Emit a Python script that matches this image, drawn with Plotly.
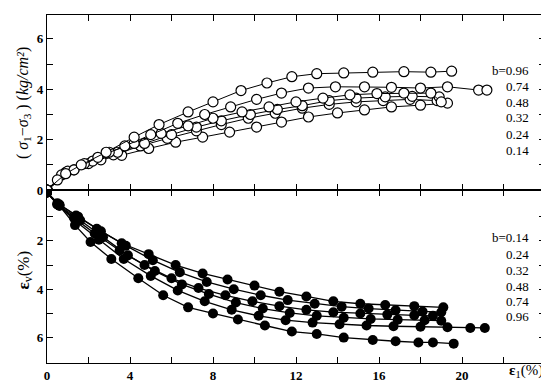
import plotly.graph_objects as go
from plotly.subplots import make_subplots

b_labels = ["0.14", "0.24", "0.32", "0.48", "0.74", "0.96"]

# Upper panel: deviator stress (sigma1 - sigma3), kg/cm2, vs axial strain eps1 (%)
up_e1 = {
    "0.14": [0, 1.3, 2.6, 3.6, 4.9, 6.2, 7.5, 8.8, 10.1, 11.3, 12.6, 14.0, 15.3, 16.6, 18.0, 19.3],
    "0.24": [0, 0.9, 2.0, 3.2, 4.5, 5.8, 7.2, 8.4, 9.7, 11.0, 12.3, 13.6, 14.9, 16.2, 17.5, 18.8],
    "0.32": [0, 1.0, 2.2, 3.4, 4.7, 6.0, 7.2, 8.4, 9.8, 11.1, 12.3, 13.6, 14.9, 16.3, 17.6, 18.9],
    "0.48": [0, 0.7, 1.8, 3.0, 4.2, 5.5, 6.8, 8.0, 9.4, 10.7, 12.0, 13.3, 14.6, 15.9, 17.2, 18.5, 19.0],
    "0.74": [0, 0.5, 1.3, 2.45, 3.75, 5.0, 6.3, 7.6, 8.85, 10.1, 11.3, 12.6, 13.9, 15.3, 16.6, 18.0, 19.3, 20.8, 21.2],
    "0.96": [0, 0.9, 1.65, 2.85, 4.2, 5.4, 6.8, 8.0, 9.35, 10.6, 11.8, 13.0, 14.3, 15.7, 17.2, 18.5, 19.5],
}
up_sig = {
    "0.14": [0, 0.8, 1.2, 1.38, 1.65, 1.9, 2.1, 2.3, 2.5, 2.7, 2.9, 3.06, 3.18, 3.3, 3.37, 3.45],
    "0.24": [0, 0.7, 1.05, 1.4, 1.75, 2.05, 2.35, 2.6, 2.85, 3.05, 3.25, 3.4, 3.5, 3.55, 3.6, 3.55],
    "0.32": [0, 0.75, 1.15, 1.5, 1.85, 2.2, 2.5, 2.75, 3.0, 3.2, 3.35, 3.55, 3.65, 3.7, 3.72, 3.7],
    "0.48": [0, 0.6, 1.05, 1.5, 1.85, 2.25, 2.55, 2.85, 3.1, 3.3, 3.5, 3.65, 3.78, 3.83, 3.85, 3.85, 3.5],
    "0.74": [0, 0.4, 0.8, 1.3, 1.75, 2.2, 2.65, 3.0, 3.3, 3.6, 3.85, 4.05, 4.1, 4.1, 4.08, 4.05, 4.1, 3.97, 3.97],
    "0.96": [0, 0.65, 1.0, 1.5, 2.1, 2.6, 3.1, 3.5, 3.95, 4.25, 4.5, 4.62, 4.65, 4.68, 4.7, 4.68, 4.72],
}

# Lower panel: volumetric strain eps_v (%) vs eps1 (%)
lo_e1 = {
    "0.14": [0, 0.5, 1.4, 2.4, 3.6, 4.9, 6.2, 7.5, 8.7, 10.0, 11.2, 12.5, 13.8, 15.1, 16.3, 17.7, 19.1],
    "0.24": [0, 0.6, 1.5, 2.6, 3.8, 5.1, 6.4, 7.7, 9.0, 10.3, 11.6, 12.9, 14.2, 15.5, 16.8, 18.1, 19.0],
    "0.32": [0, 0.5, 1.3, 2.3, 3.5, 4.7, 6.0, 7.3, 8.6, 9.9, 11.2, 12.5, 13.8, 15.1, 16.4, 17.7, 18.6],
    "0.48": [0, 0.6, 1.6, 2.7, 3.9, 5.2, 6.5, 7.8, 9.1, 10.4, 11.7, 13.0, 14.3, 15.6, 16.9, 18.2, 19.0],
    "0.74": [0, 0.5, 1.4, 2.5, 3.7, 5.0, 6.3, 7.6, 8.9, 10.2, 11.5, 12.8, 14.1, 15.4, 16.7, 18.0, 19.3, 20.4, 21.1],
    "0.96": [0, 0.6, 1.35, 2.1, 3.1, 4.4, 5.6, 6.8, 8.0, 9.2, 10.5, 11.8, 13.0, 14.3, 15.7, 16.8, 17.9, 18.6, 19.6],
}
lo_ev = {
    "0.14": [0, 0.45, 0.95, 1.5, 2.1, 2.55, 3.0, 3.35, 3.6, 3.85, 4.1, 4.3, 4.5, 4.6, 4.65, 4.7, 4.75],
    "0.24": [0, 0.5, 1.0, 1.6, 2.2, 2.8, 3.3, 3.7, 4.0, 4.25, 4.45, 4.6, 4.72, 4.8, 4.87, 4.92, 4.95],
    "0.32": [0, 0.5, 1.05, 1.7, 2.4, 3.0, 3.55, 3.95, 4.25, 4.5, 4.7, 4.85, 4.95, 5.0, 5.05, 5.08, 5.1],
    "0.48": [0, 0.55, 1.15, 1.85, 2.6, 3.25, 3.8, 4.2, 4.55, 4.8, 4.98, 5.1, 5.18, 5.23, 5.26, 5.28, 5.3],
    "0.74": [0, 0.5, 1.2, 1.95, 2.75, 3.45, 4.05, 4.5, 4.85, 5.1, 5.28, 5.38, 5.45, 5.5, 5.53, 5.55, 5.57, 5.6, 5.6],
    "0.96": [0, 0.55, 1.35, 2.05, 2.75, 3.55, 4.25, 4.75, 5.0, 5.25, 5.5, 5.75, 5.85, 6.0, 6.1, 6.15, 6.2, 6.2, 6.25],
}

upper_label_order = ["0.96", "0.74", "0.48", "0.32", "0.24", "0.14"]
lower_label_order = ["0.14", "0.24", "0.32", "0.48", "0.74", "0.96"]

FONT = "Liberation Serif"

fig = make_subplots(rows=2, cols=1, shared_xaxes=True, vertical_spacing=0,
                    row_heights=[0.503, 0.497])

for b in b_labels:
    fig.add_trace(go.Scatter(
        x=up_e1[b], y=up_sig[b], mode="lines+markers",
        line=dict(color="black", width=1),
        marker=dict(symbol="circle", size=10, color="white",
                    line=dict(color="black", width=1.2)),
        showlegend=False), row=1, col=1)

for b in b_labels:
    fig.add_trace(go.Scatter(
        x=lo_e1[b], y=lo_ev[b], mode="lines+markers",
        line=dict(color="black", width=1.3),
        marker=dict(symbol="circle", size=10, color="black",
                    line=dict(color="black", width=0)),
        showlegend=False), row=2, col=1)

axis_common = dict(showline=True, linecolor="black", linewidth=1.2, mirror="allticks",
                   ticks="inside", ticklen=6, tickwidth=1.2, tickcolor="black",
                   showgrid=False, zeroline=False,
                   tickfont=dict(family=FONT, size=13, color="black", weight="bold"))

fig.update_xaxes(**axis_common, range=[0, 24], tickvals=list(range(0, 24, 2)),
                 ticktext=["0", " ", "4", " ", "8", " ", "12", " ", "16", " ", "20", " "])
fig.update_xaxes(showticklabels=False, linewidth=0.8, row=1, col=1)

fig.update_yaxes(**axis_common)
fig.update_yaxes(range=[0, 6.95], tickvals=[0, 1, 2, 3, 4, 5, 6],
                 ticktext=["0", " ", "2", " ", "4", " ", "6"], row=1, col=1)
fig.update_yaxes(range=[7.05, -0.1], tickvals=[1, 2, 3, 4, 5, 6],
                 ticktext=[" ", "2", " ", "4", " ", "6"], row=2, col=1)

annotations = []
# plot area: x 39..537, y 7..355 (px)
def px_y(y):
    return (355 - y) / 348.0

up_y = [62, 79, 94, 109, 126, 142]
for i, b in enumerate(upper_label_order):
    txt = ("b=" + b) if i == 0 else b
    annotations.append(dict(x=0.972, y=px_y(up_y[i]), xref="paper", yref="paper",
                            text=txt, showarrow=False, xanchor="right", yanchor="middle",
                            font=dict(family=FONT, size=13, color="black")))
lo_y = [229, 246, 262, 278, 293, 308]
for i, b in enumerate(lower_label_order):
    txt = ("b=" + b) if i == 0 else b
    annotations.append(dict(x=0.972, y=px_y(lo_y[i]), xref="paper", yref="paper",
                            text=txt, showarrow=False, xanchor="right", yanchor="middle",
                            font=dict(family=FONT, size=13, color="black")))

annotations.append(dict(x=-0.048, y=px_y(95), xref="paper", yref="paper",
                        text="( <i>σ</i><sub>1</sub>−<i>σ</i><sub>3</sub> ) (<i>kg/cm²</i>)",
                        textangle=-90, showarrow=False, xanchor="center", yanchor="middle",
                        font=dict(family=FONT, size=16, color="black")))
annotations.append(dict(x=-0.045, y=px_y(262), xref="paper", yref="paper",
                        text="<b>ε</b><sub>v</sub>(%)",
                        textangle=-90, showarrow=False, xanchor="center", yanchor="middle",
                        font=dict(family=FONT, size=17, color="black")))
annotations.append(dict(x=1.0, y=px_y(374), xref="paper", yref="paper",
                        text="<b>ε</b><sub>1</sub>(%)",
                        showarrow=False, xanchor="right", yanchor="bottom",
                        font=dict(family=FONT, size=15, color="black")))

fig.update_layout(width=549, height=382, margin=dict(l=39, r=12, t=7, b=27),
                  plot_bgcolor="white", paper_bgcolor="white",
                  annotations=annotations, showlegend=False)

fig.write_html("out.html")
